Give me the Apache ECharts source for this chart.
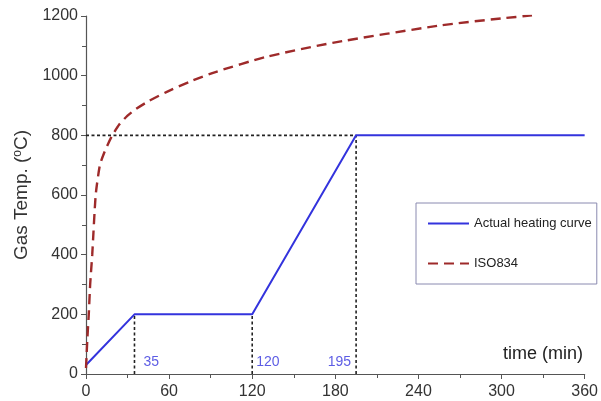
<!DOCTYPE html>
<html><head><meta charset="utf-8">
<script src="https://cdn.jsdelivr.net/npm/echarts@6/dist/echarts.min.js"></script>
<style>html,body{margin:0;padding:0;background:#fff}#c{width:601px;height:401px}</style>
</head><body><div id="c"></div>
<script>
// time (min) and temperature (°C)
const actualTime = [0, 35, 120, 195, 360];
const actualTemp = [30, 200, 200, 800, 800];
const isoTime = [0, 1, 2, 3, 4.5, 7, 10, 13, 16, 19, 24, 30, 36, 45, 58, 75, 94, 130, 178, 255, 300, 322];
const isoTemp = [20, 120, 200, 300, 400, 600, 700, 740, 772, 800, 836, 866, 888, 914, 945, 980, 1013, 1063, 1110, 1168, 1192, 1202];
const markTimes = [35, 120, 195];
const markTemps = [200, 200, 800];
const markLabels = ['35', '120', '195'];
const markLabelTemp = 40;
const xTicks = [0, 60, 120, 180, 240, 300, 360];
const yTicks = [0, 200, 400, 600, 800, 1000, 1200];

const zip = (a, b) => a.map((v, i) => [v, b[i]]);
const font = 'Liberation Sans, Arial';
const guide = {type: 'line', symbol: 'none', silent: true, z: 1,
  lineStyle: {color: '#222', width: 1.6, type: [3, 2.5]}};
const series = [
  {name: 'Actual heating curve', type: 'line', symbol: 'none', z: 3,
   data: zip(actualTime, actualTemp), lineStyle: {color: '#3333dd', width: 2}, itemStyle: {color: '#3333dd'}},
  {name: 'ISO834', type: 'line', symbol: 'none', z: 3, smooth: 0.2,
   data: zip(isoTime, isoTemp), lineStyle: {color: '#9e2a2a', width: 2.4, type: [10, 6]}, itemStyle: {color: '#9e2a2a'}}
];
markTimes.forEach((t, i) => {
  series.push(Object.assign({}, guide, {data: [[t, 0], [t, markTemps[i]]]}));
});
series.push(Object.assign({}, guide, {data: [[0, markTemps[2]], [markTimes[2], markTemps[2]]]}));
series.push({
  type: 'scatter', symbolSize: 0, silent: true, z: 4,
  data: markTimes.map((t, i) => ({value: [t, markLabelTemp], label: {
    show: true, formatter: markLabels[i],
    position: i === 2 ? 'left' : 'right', distance: i === 0 ? 9 : (i === 1 ? 4 : 5),
    color: '#3333dd', fontSize: 14, fontFamily: 'Liberation Sans Narrow, ' + font}}))
});

const chart = echarts.init(document.getElementById('c'), null, {renderer: 'canvas'});
chart.setOption({
  animation: false,
  backgroundColor: '#fff',
  grid: {left: 86, right: 15, top: 16, bottom: 27},
  legend: {
    data: ['Actual heating curve', 'ISO834'], orient: 'vertical', left: 416, top: 203,
    padding: [14, 5, 14, 11], itemGap: 27, itemWidth: 41, itemHeight: 14,
    itemStyle: {opacity: 0},
    borderColor: '#8a8ab0', borderWidth: 1,
    textStyle: {fontSize: 13, color: '#222', fontFamily: 'Liberation Sans Narrow, ' + font}
  },
  xAxis: {
    type: 'value', min: xTicks[0], max: xTicks[xTicks.length - 1], interval: 60,
    axisLine: {lineStyle: {color: '#555', width: 1.2}},
    axisTick: {length: 5, lineStyle: {color: '#555'}},
    minorTick: {show: true, splitNumber: 2, length: 4, lineStyle: {color: '#555'}},
    splitLine: {show: false},
    axisLabel: {fontSize: 16, color: '#333', margin: 10, fontFamily: font, formatter: v => String(v)}
  },
  yAxis: {
    type: 'value', min: yTicks[0], max: yTicks[yTicks.length - 1], interval: 200,
    name: 'Gas Temp. ({s|o}C)', nameLocation: 'middle', nameGap: 52, nameRotate: 90,
    nameTextStyle: {fontSize: 19, color: '#333', fontFamily: font,
      rich: {s: {fontSize: 12, verticalAlign: 'top', padding: [0, 0, 9, 0], color: '#333', fontFamily: font}}},
    axisLine: {show: true, lineStyle: {color: '#555', width: 1.2}},
    axisTick: {show: true, length: 5, lineStyle: {color: '#555'}},
    minorTick: {show: true, splitNumber: 2, length: 4, lineStyle: {color: '#555'}},
    splitLine: {show: false},
    axisLabel: {fontSize: 16, color: '#333', margin: 8, fontFamily: font, formatter: v => String(v)}
  },
  graphic: [{type: 'text', right: 18, top: 345,
    style: {text: 'time (min)', fontSize: 18, fill: '#222', fontFamily: font}}],
  series: series
});
</script></body></html>
